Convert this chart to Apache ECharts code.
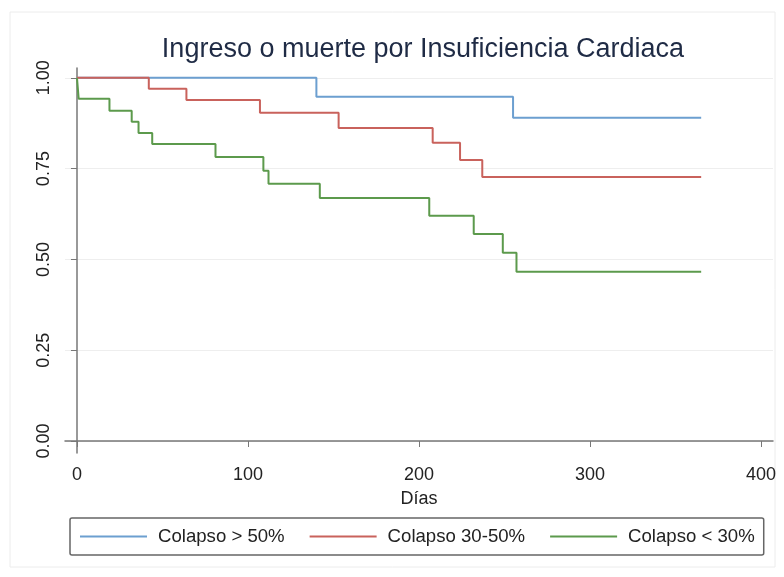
<!DOCTYPE html>
<html>
<head>
<meta charset="utf-8">
<title>Ingreso o muerte por Insuficiencia Cardiaca</title>
<script src="https://cdn.jsdelivr.net/npm/echarts@6/dist/echarts.min.js"></script>
<style>
  html, body { margin: 0; padding: 0; background: #fff; }
  #chart { width: 784px; height: 577px; }
</style>
</head>
<body>
<div id="chart"></div>
<script>
// Kaplan-Meier steps (day, survival)
var diasMayor50 = [0, 140, 255, 365];
var survMayor50 = [1, 0.948, 0.890, 0.890];

var dias30a50 = [0, 42, 64, 107, 153, 208, 224, 237, 365];
var surv30a50 = [1, 0.970, 0.939, 0.904, 0.862, 0.821, 0.774, 0.727, 0.727];

var diasMenor30 = [0, 1, 19, 32, 36, 44, 81, 109, 112, 142, 206, 232, 249, 257, 365];
var survMenor30 = [1, 0.942, 0.909, 0.879, 0.848, 0.818, 0.782, 0.744, 0.708, 0.669, 0.620, 0.570, 0.518, 0.466, 0.466];

var xTicks = [0, 100, 200, 300, 400];
var yTicks = [0, 0.25, 0.5, 0.75, 1];

var seriesNames = ['Colapso > 50%', 'Colapso 30-50%', 'Colapso < 30%'];

function pares(xs, ys) {
  var out = [];
  for (var i = 0; i < xs.length; i++) out.push([xs[i], ys[i]]);
  return out;
}

var font = 'Liberation Sans, Arial, Helvetica, sans-serif';

function kmSerie(name, xs, ys, color) {
  return {
    name: name,
    type: 'line',
    step: 'end',
    symbol: 'none',
    showSymbol: false,
    silent: true,
    lineStyle: { color: color, width: 2 },
    itemStyle: { color: color },
    data: pares(xs, ys)
  };
}

var myChart = echarts.init(document.getElementById('chart'), null, { renderer: 'canvas' });

var option = {
  backgroundColor: '#ffffff',
  animation: false,
  textStyle: { fontFamily: font },
  title: {
    text: 'Ingreso o muerte por Insuficiencia Cardiaca',
    left: 418,
    textAlign: 'center',
    top: 31,
    textStyle: { fontSize: 27, fontWeight: 'normal', color: '#1f2b45', fontFamily: font }
  },
  graphic: [{
    type: 'rect',
    shape: { x: 10, y: 12, width: 765, height: 555 },
    style: { fill: 'none', stroke: '#ececec', lineWidth: 1 },
    z: -1
  }],
  legend: {
    left: 70,
    top: 518,
    padding: [9, 9, 9, 10],
    itemGap: 25,
    itemWidth: 67,
    itemHeight: 2,
    icon: 'rect',
    borderColor: '#666',
    borderWidth: 1.5,
    borderRadius: 2,
    textStyle: { fontSize: 18.6, lineHeight: 19, color: '#222', fontFamily: font, padding: [0, 0, 0, 6] },
    data: seriesNames
  },
  grid: {
    left: 65,
    right: 11,
    top: 68,
    bottom: 124
  },
  xAxis: {
    type: 'value',
    min: -7,
    max: 407,
    name: 'Días',
    nameLocation: 'middle',
    nameGap: 37,
    nameTextStyle: { fontSize: 18, color: '#222', fontFamily: font },
    axisLine: { lineStyle: { color: '#777', width: 1.5 } },
    axisTick: { length: 6, lineStyle: { color: '#777' }, customValues: xTicks },
    axisLabel: { fontSize: 18, color: '#222', margin: 13, customValues: xTicks },
    splitLine: { show: false }
  },
  yAxis: {
    type: 'value',
    min: -0.033,
    max: 1.027,
    axisLine: { show: true, lineStyle: { color: '#777', width: 1.5 } },
    axisTick: { show: true, length: 6, lineStyle: { color: '#777' }, customValues: yTicks },
    axisLabel: {
      fontSize: 18,
      color: '#222',
      rotate: 90,
      margin: 12,
      customValues: yTicks,
      formatter: function (v) { return v.toFixed(2); }
    },
    splitLine: { show: true, lineStyle: { color: '#eeeeee', width: 1 } }
  },
  series: [
    kmSerie(seriesNames[0], diasMayor50, survMayor50, '#6c9fd0'),
    kmSerie(seriesNames[1], dias30a50, surv30a50, '#c9625c'),
    kmSerie(seriesNames[2], diasMenor30, survMenor30, '#5c9a4c')
  ]
};

myChart.setOption(option);
window.addEventListener('resize', function () {
  myChart.resize();
});
</script>
</body>
</html>
